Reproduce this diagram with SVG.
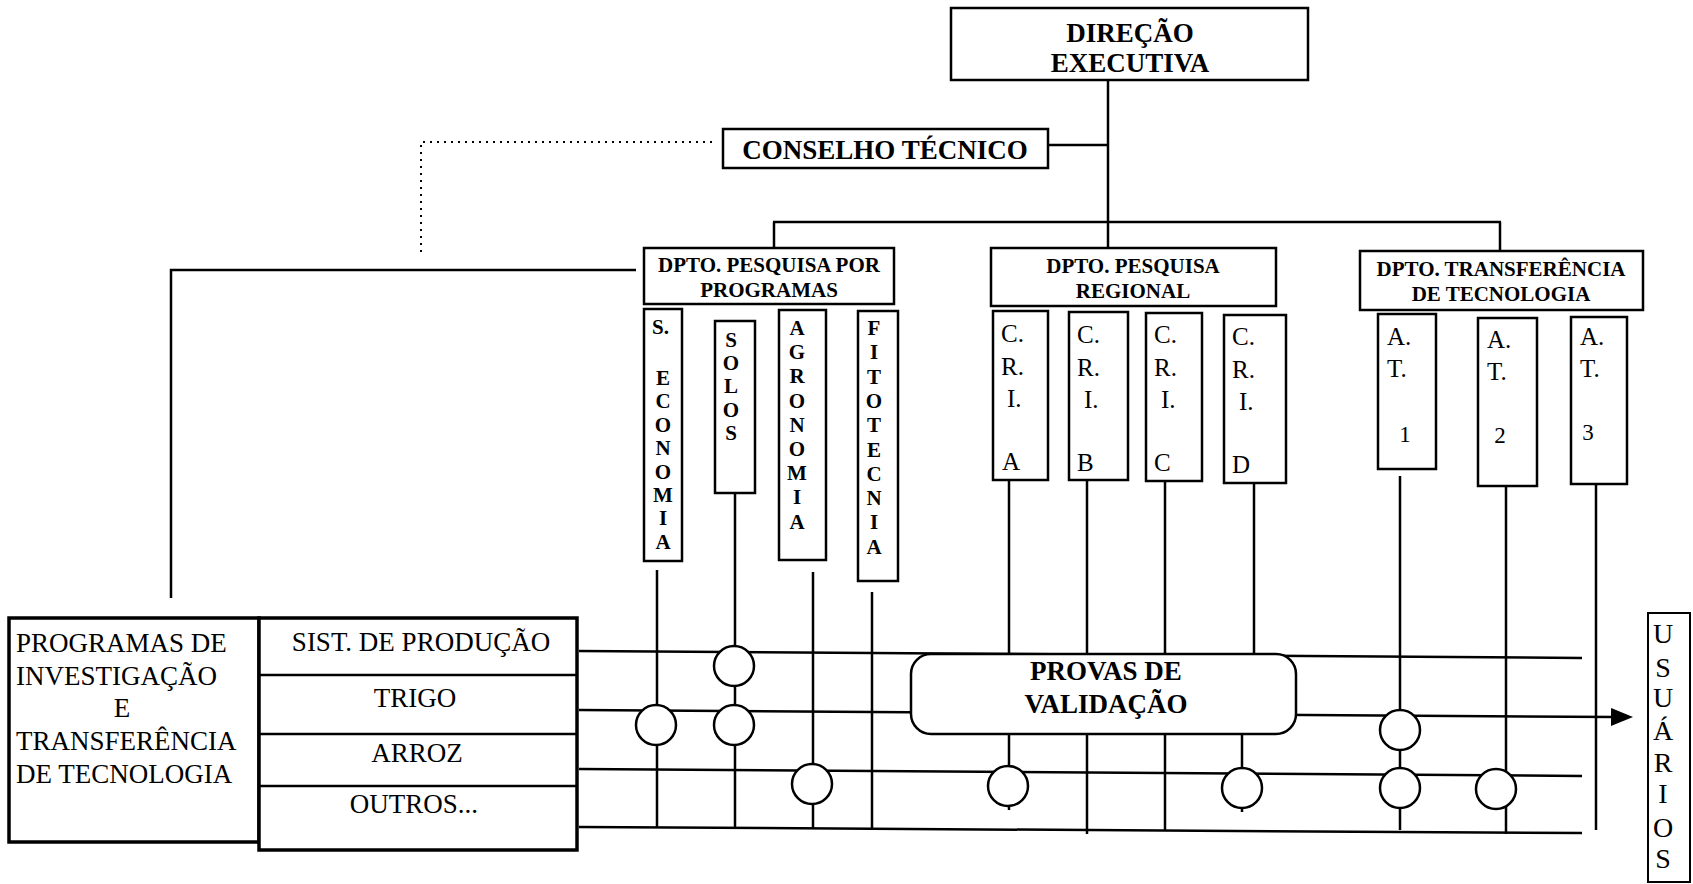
<svg xmlns="http://www.w3.org/2000/svg" width="1693" height="884" viewBox="0 0 1693 884">
<style>
.ln{stroke:#000;stroke-width:2.5;fill:none;stroke-linecap:butt}
.dot{stroke:#000;stroke-width:2;fill:none;stroke-dasharray:2 5}
.box{fill:#fff;stroke:#000;stroke-width:2.5}
.thick{fill:#fff;stroke:#000;stroke-width:3.5}
.jn{fill:#fff;stroke:#000;stroke-width:2.5}
text{font-family:"Liberation Serif","Times New Roman",serif;fill:#000}
.b{font-weight:bold}
.t26{font-size:26px}
.t27{font-size:27px}
.t21{font-size:21px}
.v{font-size:21px;font-weight:bold;text-anchor:middle}
.c{font-size:25px}
.m{text-anchor:middle}
.u{font-size:28px;text-anchor:middle}
</style>
<defs>
<marker id="arr" markerUnits="userSpaceOnUse" markerWidth="22" markerHeight="18" refX="4" refY="9" orient="auto">
<path d="M0,0 L22,9 L0,18 Z" fill="#000"/>
</marker>
</defs>
<rect width="1693" height="884" fill="#fff"/>

<g id="connectors">
<line class="ln" x1="1108" y1="80" x2="1108" y2="248"/>
<line class="ln" x1="1048" y1="145" x2="1108" y2="145"/>
<line class="ln" x1="773" y1="222" x2="1501" y2="222"/>
<line class="ln" x1="774" y1="222" x2="774" y2="248"/>
<line class="ln" x1="1500" y1="222" x2="1500" y2="251"/>
<polyline class="dot" points="712,142 421,142 421,252"/>
<polyline class="ln" points="636,270 171,270 171,598"/>
<line class="ln" x1="579" y1="651" x2="1582" y2="658"/>
<line class="ln" x1="579" y1="710" x2="1615" y2="717" marker-end="url(#arr)"/>
<line class="ln" x1="579" y1="769" x2="1582" y2="776"/>
<line class="ln" x1="579" y1="827" x2="1582" y2="833"/>
<line class="ln" x1="657" y1="570" x2="657" y2="828"/>
<line class="ln" x1="735" y1="493" x2="735" y2="828"/>
<line class="ln" x1="813" y1="572" x2="813" y2="829"/>
<line class="ln" x1="872" y1="592" x2="872" y2="829"/>
<line class="ln" x1="1009" y1="480" x2="1009" y2="656"/>
<line class="ln" x1="1009" y1="733" x2="1009" y2="810"/>
<line class="ln" x1="1087" y1="480" x2="1087" y2="656"/>
<line class="ln" x1="1087" y1="733" x2="1087" y2="834"/>
<line class="ln" x1="1165" y1="481" x2="1165" y2="656"/>
<line class="ln" x1="1165" y1="733" x2="1165" y2="830"/>
<line class="ln" x1="1254" y1="483" x2="1254" y2="656"/>
<line class="ln" x1="1242" y1="733" x2="1242" y2="812"/>
<line class="ln" x1="1400" y1="476" x2="1400" y2="830"/>
<line class="ln" x1="1506" y1="486" x2="1506" y2="834"/>
<line class="ln" x1="1596" y1="484" x2="1596" y2="830"/>
</g>

<g id="junctions">
<ellipse class="jn" cx="734" cy="666" rx="20" ry="20"/>
<ellipse class="jn" cx="656" cy="725" rx="20" ry="20"/>
<ellipse class="jn" cx="734" cy="725" rx="20" ry="20"/>
<ellipse class="jn" cx="812" cy="784" rx="20" ry="20"/>
<ellipse class="jn" cx="1008" cy="786" rx="20" ry="20"/>
<ellipse class="jn" cx="1242" cy="788" rx="20" ry="20"/>
<ellipse class="jn" cx="1400" cy="730" rx="20" ry="20"/>
<ellipse class="jn" cx="1400" cy="788" rx="20" ry="20"/>
<ellipse class="jn" cx="1496" cy="789" rx="20" ry="20"/>
</g>

<g id="direcao">
<rect class="box" x="951" y="8" width="357" height="72"/>
<text class="b t27 m" x="1130" y="42">DIREÇÃO</text>
<text class="b t27 m" x="1130" y="72">EXECUTIVA</text>
</g>

<g id="conselho">
<rect class="box" x="723" y="129" width="325" height="39"/>
<text class="b t27 m" x="885" y="159">CONSELHO TÉCNICO</text>
</g>

<g id="dpto-programas">
<rect class="box" x="644" y="248" width="250" height="56"/>
<text class="b t21 m" x="769" y="272">DPTO. PESQUISA POR</text>
<text class="b t21 m" x="769" y="297">PROGRAMAS</text>
</g>

<g id="dpto-regional">
<rect class="box" x="991" y="248" width="285" height="58"/>
<text class="b t21 m" x="1133" y="273">DPTO. PESQUISA</text>
<text class="b t21 m" x="1133" y="298">REGIONAL</text>
</g>

<g id="dpto-transferencia">
<rect class="box" x="1360" y="251" width="283" height="59"/>
<text class="b t21 m" x="1501" y="276">DPTO. TRANSFERÊNCIA</text>
<text class="b t21 m" x="1501" y="301">DE TECNOLOGIA</text>
</g>

<g id="s-economia">
<rect class="box" x="644" y="309" width="38" height="252"/>
<text class="b" style="font-size:21px" x="652" y="334">S.</text>
<text class="v" x="663" y="385">E</text>
<text class="v" x="663" y="408">C</text>
<text class="v" x="663" y="432">O</text>
<text class="v" x="663" y="455">N</text>
<text class="v" x="663" y="479">O</text>
<text class="v" x="663" y="502">M</text>
<text class="v" x="663" y="525">I</text>
<text class="v" x="663" y="549">A</text>
</g>

<g id="solos">
<rect class="box" x="715" y="321" width="40" height="172"/>
<text class="v" x="731" y="347">S</text>
<text class="v" x="731" y="370">O</text>
<text class="v" x="731" y="393">L</text>
<text class="v" x="731" y="417">O</text>
<text class="v" x="731" y="440">S</text>
</g>

<g id="agronomia">
<rect class="box" x="779" y="310" width="47" height="250"/>
<text class="v" x="797" y="335">A</text>
<text class="v" x="797" y="359">G</text>
<text class="v" x="797" y="383">R</text>
<text class="v" x="797" y="408">O</text>
<text class="v" x="797" y="432">N</text>
<text class="v" x="797" y="456">O</text>
<text class="v" x="797" y="480">M</text>
<text class="v" x="797" y="504">I</text>
<text class="v" x="797" y="529">A</text>
</g>

<g id="fitotecnia">
<rect class="box" x="858" y="311" width="40" height="270"/>
<text class="v" x="874" y="335">F</text>
<text class="v" x="874" y="359">I</text>
<text class="v" x="874" y="384">T</text>
<text class="v" x="874" y="408">O</text>
<text class="v" x="874" y="432">T</text>
<text class="v" x="874" y="457">E</text>
<text class="v" x="874" y="481">C</text>
<text class="v" x="874" y="505">N</text>
<text class="v" x="874" y="529">I</text>
<text class="v" x="874" y="554">A</text>
</g>

<g id="cri-a">
<rect class="box" x="993" y="311" width="55" height="169"/>
<text class="c" x="1001" y="342">C.</text>
<text class="c" x="1001" y="375">R.</text>
<text class="c" x="1007" y="407">I.</text>
<text class="c" x="1002" y="470">A</text>
</g>

<g id="cri-b">
<rect class="box" x="1069" y="312" width="59" height="168"/>
<text class="c" x="1077" y="343">C.</text>
<text class="c" x="1077" y="376">R.</text>
<text class="c" x="1084" y="408">I.</text>
<text class="c" x="1077" y="471">B</text>
</g>

<g id="cri-c">
<rect class="box" x="1146" y="313" width="56" height="168"/>
<text class="c" x="1154" y="343">C.</text>
<text class="c" x="1154" y="376">R.</text>
<text class="c" x="1161" y="408">I.</text>
<text class="c" x="1154" y="471">C</text>
</g>

<g id="cri-d">
<rect class="box" x="1224" y="315" width="62" height="168"/>
<text class="c" x="1232" y="345">C.</text>
<text class="c" x="1232" y="378">R.</text>
<text class="c" x="1239" y="410">I.</text>
<text class="c" x="1232" y="473">D</text>
</g>

<g id="at-1">
<rect class="box" x="1378" y="314" width="58" height="155"/>
<text class="c" x="1387" y="345">A.</text>
<text class="c" x="1387" y="377">T.</text>
<text class="m" style="font-size:23px" x="1405" y="442">1</text>
</g>

<g id="at-2">
<rect class="box" x="1478" y="318" width="59" height="168"/>
<text class="c" x="1487" y="348">A.</text>
<text class="c" x="1487" y="380">T.</text>
<text class="m" style="font-size:23px" x="1500" y="443">2</text>
</g>

<g id="at-3">
<rect class="box" x="1571" y="317" width="56" height="167"/>
<text class="c" x="1580" y="345">A.</text>
<text class="c" x="1580" y="377">T.</text>
<text class="m" style="font-size:23px" x="1588" y="440">3</text>
</g>

<g id="provas">
<rect class="box" x="911" y="654" width="385" height="80" rx="20" ry="20"/>
<text class="b t27 m" x="1106" y="680">PROVAS DE</text>
<text class="b t27 m" x="1106" y="713">VALIDAÇÃO</text>
</g>

<g id="programas">
<rect class="thick" x="9" y="618" width="250" height="224"/>
<text class="t27" x="16" y="652">PROGRAMAS DE</text>
<text class="t27" x="16" y="685">INVESTIGAÇÃO</text>
<text class="t27 m" x="122" y="717">E</text>
<text class="t27" x="16" y="750">TRANSFERÊNCIA</text>
<text class="t27" x="16" y="783">DE TECNOLOGIA</text>
</g>

<g id="tabela">
<rect class="thick" x="259" y="618" width="318" height="232"/>
<line class="ln" x1="259" y1="675" x2="577" y2="675"/>
<line class="ln" x1="259" y1="734" x2="577" y2="734"/>
<line class="ln" x1="259" y1="786" x2="577" y2="786"/>
<text class="t27 m" x="421" y="651">SIST. DE PRODUÇÃO</text>
<text class="t27 m" x="415" y="707">TRIGO</text>
<text class="t27 m" x="417" y="762">ARROZ</text>
<text class="t27 m" x="414" y="813">OUTROS...</text>
</g>

<g id="usuarios">
<rect class="box" x="1648" y="613" width="42" height="269" style="stroke-width:2"/>
<text class="u" x="1663" y="643">U</text>
<text class="u" x="1663" y="677">S</text>
<text class="u" x="1663" y="707">U</text>
<text class="u" x="1663" y="740">Á</text>
<text class="u" x="1663" y="772">R</text>
<text class="u" x="1663" y="803">I</text>
<text class="u" x="1663" y="837">O</text>
<text class="u" x="1663" y="868">S</text>
</g>
</svg>
